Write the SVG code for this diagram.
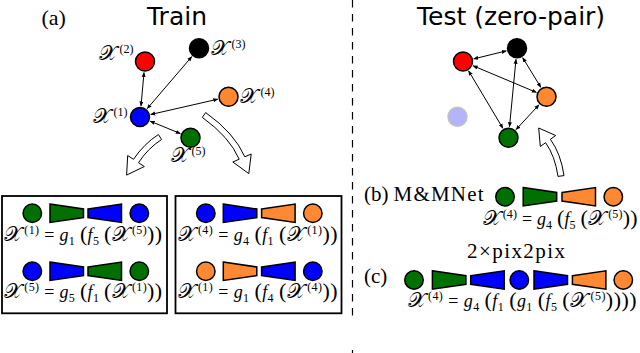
<svg xmlns="http://www.w3.org/2000/svg" xmlns:xlink="http://www.w3.org/1999/xlink" width="640" height="353" viewBox="0 0 640 353">
<style>
.m{font-family:"Liberation Serif","DejaVu Serif",serif;font-size:18px;fill:#000}
.t{font-family:"DejaVu Sans",sans-serif;font-size:25px;fill:#000}
.lbl{font-family:"Liberation Serif","DejaVu Serif",serif;font-size:21px;fill:#000}
.X{font-size:21px}
.sup{font-size:12px;baseline-shift:7px}
.sub{font-size:12px;baseline-shift:-4px}
.i{font-style:italic}
.p{font-size:22px}
.n{stroke:#000;stroke-width:1.5}
.e{stroke:#000;stroke-width:1;fill:none;marker-start:url(#ah);marker-end:url(#ah)}
.sh{stroke:#000;stroke-width:1.5;stroke-linejoin:miter}
.box{fill:none;stroke:#000;stroke-width:1.8}
.hol{fill:#fff;stroke:#000;stroke-width:1;stroke-linejoin:miter}
.R{fill:#ff0000}.K{fill:#000000}.O{fill:#ff8833}.B{fill:#0000ff}.G{fill:#007000}
</style>
<defs>
<marker id="ah" viewBox="0 0 10 10" refX="9" refY="5" markerWidth="5" markerHeight="5" markerUnits="userSpaceOnUse" orient="auto-start-reverse"><path d="M0,1 L10,5 L0,9 z" fill="#000"/></marker>
<polygon id="enc" class="sh" points="0,-9.2 33.5,-4.3 33.5,4.3 0,9.2"/>
<polygon id="dec" class="sh" points="0,-4.3 33.5,-9.2 33.5,9.2 0,4.3"/>
</defs>
<rect width="640" height="353" fill="#fff"/>

<text class="lbl" x="41.5" y="25" style="font-size:22px">(a)</text>
<text class="t" x="147" y="25">Train</text>
<text class="t" x="417" y="25">Test (zero-pair)</text>

<path d="M352.5,0 V322 M352.5,350 V353" stroke="#000" stroke-width="1.2" stroke-dasharray="7.5 6.5"/>

<g id="connectors">
<line class="e" x1="141.0" y1="106.0" x2="144.0" y2="72.5"/>
<line class="e" x1="147.2" y1="108.7" x2="191.8" y2="56.6"/>
<line class="e" x1="150.7" y1="114.5" x2="217.8" y2="99.2"/>
<line class="e" x1="150.2" y1="121.2" x2="180.3" y2="133.5"/>
<line class="e" x1="473.7" y1="58.9" x2="506.3" y2="50.9"/>
<line class="e" x1="473.1" y1="65.8" x2="536.4" y2="92.4"/>
<line class="e" x1="468.6" y1="70.9" x2="502.9" y2="128.3"/>
<line class="e" x1="522.7" y1="57.7" x2="540.8" y2="87.3"/>
<line class="e" x1="516.0" y1="59.3" x2="509.5" y2="126.7"/>
<line class="e" x1="539.0" y1="104.8" x2="516.0" y2="129.6"/>
<path class="hol" d="M158.4,134.5 Q143.9,143.9 133.5,159.3 L127.7,155.5 L126.6,175.1 L144.3,166.5 L138.5,162.7 Q148.1,148.1 161.6,139.5 Z"/>
<path class="hol" d="M202.3,117.4 Q229.6,137.0 239.2,159.2 L232.8,162.0 L248.8,173.6 L251.2,154.0 L244.8,156.8 Q234.4,133.0 205.7,112.6 Z"/>
<path class="hol" d="M564.0,175.6 Q560.9,153.9 550.4,139.3 L555.7,135.5 L538.7,128.0 L540.3,146.5 L545.6,142.7 Q555.1,156.1 558.0,176.4 Z"/>
</g>

<g id="train-x1"><circle class="n B" cx="140" cy="117" r="9.5"/><text class="m" x="93" y="123"><tspan class="X">𝒳</tspan><tspan class="sup" dx="2.5">(1)</tspan></text></g>
<g id="train-x2"><circle class="n R" cx="145" cy="61.5" r="9.5"/><text class="m" x="99" y="60"><tspan class="X">𝒳</tspan><tspan class="sup" dx="2.5">(2)</tspan></text></g>
<g id="train-x3"><circle class="n K" cx="199" cy="48.3" r="9.5"/><text class="m" x="211" y="55"><tspan class="X">𝒳</tspan><tspan class="sup" dx="2.5">(3)</tspan></text></g>
<g id="train-x4"><circle class="n O" cx="228.5" cy="96.7" r="9.5"/><text class="m" x="240" y="103"><tspan class="X">𝒳</tspan><tspan class="sup" dx="2.5">(4)</tspan></text></g>
<g id="train-x5"><circle class="n G" cx="190.5" cy="137.7" r="9.5"/><text class="m" x="171" y="162"><tspan class="X">𝒳</tspan><tspan class="sup" dx="2.5">(5)</tspan></text></g>

<g id="test-x1"><circle cx="457.5" cy="116.7" r="9.5" fill="#b3b3ff" stroke="#c2c2c2" stroke-width="1.5"/></g>
<g id="test-x2"><circle class="n R" cx="463" cy="61.5" r="9.5"/></g>
<g id="test-x3"><circle class="n K" cx="517" cy="48.3" r="9.5"/></g>
<g id="test-x4"><circle class="n O" cx="546.5" cy="96.7" r="9.5"/></g>
<g id="test-x5"><circle class="n G" cx="508.5" cy="137.7" r="9.5"/></g>

<g id="box-1-5">
<rect class="box" x="2" y="196" width="165" height="117.3"/>
<circle class="n G" cx="32.3" cy="213.3" r="9.25"/>
<use href="#enc" x="50" y="213.3" class="G"/>
<use href="#dec" x="88" y="213.3" class="B"/>
<circle class="n B" cx="139.3" cy="213.3" r="9.25"/>
<text class="m" x="83" y="241" text-anchor="middle" textLength="158"><tspan class="X">𝒳</tspan><tspan class="sup" dx="2">(1)</tspan> = <tspan class="i">g</tspan><tspan class="sub">1</tspan> <tspan class="p">(</tspan><tspan class="i">f</tspan><tspan class="sub">5</tspan> <tspan class="p">(</tspan><tspan class="X">𝒳</tspan><tspan class="sup" dx="2">(5)</tspan><tspan class="p">))</tspan></text>
<circle class="n B" cx="32.3" cy="271.3" r="9.25"/>
<use href="#enc" x="50" y="271.3" class="B"/>
<use href="#dec" x="88" y="271.3" class="G"/>
<circle class="n G" cx="139.3" cy="271.3" r="9.25"/>
<text class="m" x="83" y="297.5" text-anchor="middle" textLength="158"><tspan class="X">𝒳</tspan><tspan class="sup" dx="2">(5)</tspan> = <tspan class="i">g</tspan><tspan class="sub">5</tspan> <tspan class="p">(</tspan><tspan class="i">f</tspan><tspan class="sub">1</tspan> <tspan class="p">(</tspan><tspan class="X">𝒳</tspan><tspan class="sup" dx="2">(1)</tspan><tspan class="p">))</tspan></text>
</g>

<g id="box-1-4">
<rect class="box" x="175.5" y="196" width="166" height="117.3"/>
<circle class="n B" cx="205.8" cy="213.3" r="9.25"/>
<use href="#enc" x="223.3" y="213.3" class="B"/>
<use href="#dec" x="261.6" y="213.3" class="O"/>
<circle class="n O" cx="312.8" cy="213.3" r="9.25"/>
<text class="m" x="257.5" y="241" text-anchor="middle" textLength="160"><tspan class="X">𝒳</tspan><tspan class="sup" dx="2">(4)</tspan> = <tspan class="i">g</tspan><tspan class="sub">4</tspan> <tspan class="p">(</tspan><tspan class="i">f</tspan><tspan class="sub">1</tspan> <tspan class="p">(</tspan><tspan class="X">𝒳</tspan><tspan class="sup" dx="2">(1)</tspan><tspan class="p">))</tspan></text>
<circle class="n O" cx="205.8" cy="271.3" r="9.25"/>
<use href="#enc" x="223.3" y="271.3" class="O"/>
<use href="#dec" x="261.6" y="271.3" class="B"/>
<circle class="n B" cx="312.8" cy="271.3" r="9.25"/>
<text class="m" x="257.5" y="297.5" text-anchor="middle" textLength="160"><tspan class="X">𝒳</tspan><tspan class="sup" dx="2">(1)</tspan> = <tspan class="i">g</tspan><tspan class="sub">1</tspan> <tspan class="p">(</tspan><tspan class="i">f</tspan><tspan class="sub">4</tspan> <tspan class="p">(</tspan><tspan class="X">𝒳</tspan><tspan class="sup" dx="2">(4)</tspan><tspan class="p">))</tspan></text>
</g>

<g id="mmnet">
<text class="lbl" x="364" y="201">(b)</text>
<text class="lbl" x="393.5" y="201" textLength="90">M&amp;MNet</text>
<circle class="n G" cx="505" cy="196.7" r="9.25"/>
<use href="#enc" x="523.2" y="196.7" class="G"/>
<use href="#dec" x="562" y="196.7" class="O"/>
<circle class="n O" cx="613.3" cy="196.7" r="9.25"/>
<text class="m" x="560" y="225" text-anchor="middle" textLength="155"><tspan class="X">𝒳</tspan><tspan class="sup" dx="2">(4)</tspan> = <tspan class="i">g</tspan><tspan class="sub">4</tspan> <tspan class="p">(</tspan><tspan class="i">f</tspan><tspan class="sub">5</tspan> <tspan class="p">(</tspan><tspan class="X">𝒳</tspan><tspan class="sup" dx="2">(5)</tspan><tspan class="p">))</tspan></text>
</g>

<g id="pix2pix">
<text class="lbl" x="516" y="258" text-anchor="middle" textLength="98">2×pix2pix</text>
<text class="lbl" x="364" y="283">(c)</text>
<circle class="n G" cx="414" cy="280" r="9.25"/>
<use href="#enc" x="432.4" y="280" class="G"/>
<use href="#dec" x="470.7" y="280" class="B"/>
<circle class="n B" cx="519.3" cy="280" r="9.25"/>
<use href="#enc" x="534" y="280" class="B"/>
<use href="#dec" x="572.4" y="280" class="O"/>
<circle class="n O" cx="623.3" cy="280" r="9.25"/>
<text class="m" x="522" y="307" text-anchor="middle" textLength="229"><tspan class="X">𝒳</tspan><tspan class="sup" dx="2">(4)</tspan> = <tspan class="i">g</tspan><tspan class="sub">4</tspan> <tspan class="p">(</tspan><tspan class="i">f</tspan><tspan class="sub">1</tspan> <tspan class="p">(</tspan><tspan class="i">g</tspan><tspan class="sub">1</tspan> <tspan class="p">(</tspan><tspan class="i">f</tspan><tspan class="sub">5</tspan> <tspan class="p">(</tspan><tspan class="X">𝒳</tspan><tspan class="sup" dx="2">(5)</tspan><tspan class="p">))))</tspan></text>
</g>
</svg>
